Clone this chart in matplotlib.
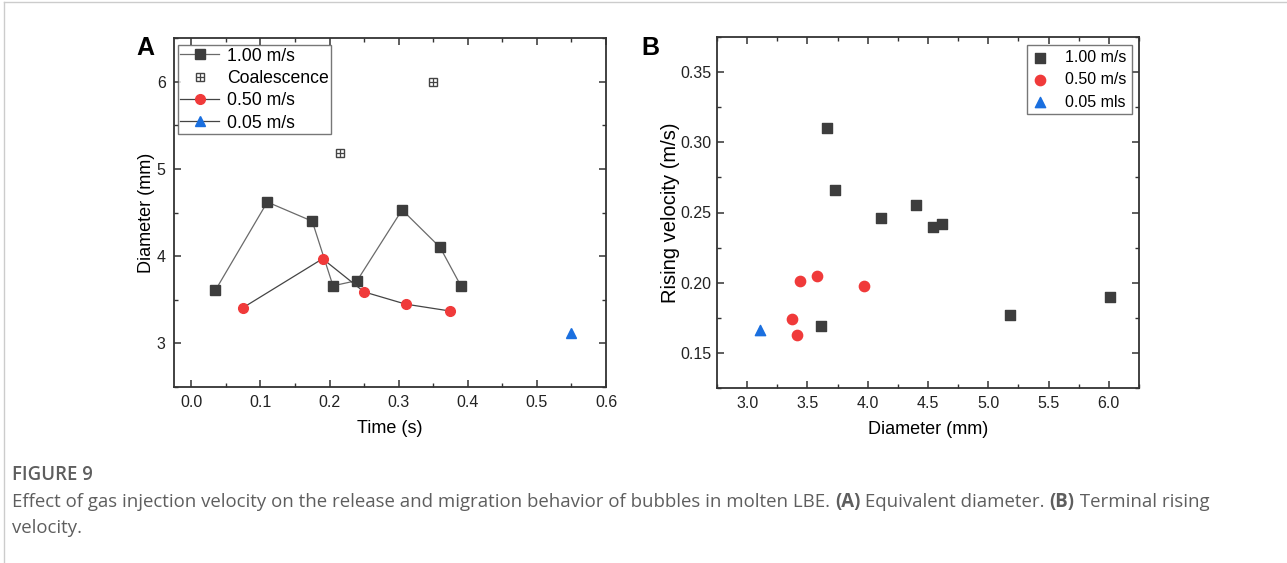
import matplotlib.pyplot as plt
from matplotlib.lines import Line2D
from matplotlib.legend_handler import HandlerTuple
from matplotlib.ticker import MultipleLocator

# ---- Panel A: diameter vs time ----
time_100 = [0.035, 0.11, 0.175, 0.205, 0.24, 0.305, 0.36, 0.39]
diam_100 = [3.61, 4.62, 4.40, 3.66, 3.72, 4.53, 4.10, 3.66]
time_coal = [0.215, 0.35]
diam_coal = [5.18, 6.00]
time_050 = [0.075, 0.19, 0.25, 0.31, 0.375]
diam_050 = [3.41, 3.97, 3.59, 3.45, 3.37]
time_005 = [0.55]
diam_005 = [3.12]

# ---- Panel B: rising velocity vs diameter ----
d_100 = [3.66, 3.73, 4.11, 4.40, 4.54, 4.62, 3.61, 5.18, 6.01]
v_100 = [0.310, 0.266, 0.246, 0.255, 0.240, 0.242, 0.169, 0.177, 0.190]
d_050 = [3.44, 3.58, 3.97, 3.37, 3.41]
v_050 = [0.201, 0.205, 0.198, 0.174, 0.163]
d_005 = [3.11]
v_005 = [0.166]

DARK = "#3d3d3d"
RED = "#f03a3a"
BLUE = "#1a6fdf"
SPINE = "#333333"
FONT = "Liberation Sans"

plt.rcParams["font.family"] = FONT

fig = plt.figure(figsize=(12.87, 5.63), dpi=100)
W, H = 1287, 563


def fig_axes(x0, y0, x1, y1):
    return fig.add_axes([x0 / W, 1 - y1 / H, (x1 - x0) / W, (y1 - y0) / H])


def style_axes(ax):
    for s in ax.spines.values():
        s.set_color(SPINE)
        s.set_linewidth(1.3)
    ax.tick_params(which="both", direction="in", top=True, right=True,
                   color=SPINE, labelsize=11.5, labelcolor="#222222", pad=6)
    ax.tick_params(which="major", length=5, width=1.1)
    ax.tick_params(which="minor", length=3, width=1.0)


ax_a = fig_axes(174, 38, 606, 387)
ax_b = fig_axes(717, 37, 1139, 388)

# ---- Panel A ----
ax_a.plot(time_100, diam_100, color="#6a6a6a", lw=0.9, marker="s", ms=6.5,
          mfc=DARK, mec=DARK, zorder=3)
ax_a.plot(time_050, diam_050, color="#444444", lw=0.9, marker="o", ms=7,
          mfc=RED, mec=RED, zorder=4)
ax_a.plot(time_005, diam_005, color="#444444", lw=0.9, marker="^", ms=7,
          mfc=BLUE, mec=BLUE, ls="none", zorder=4)
ax_a.plot(time_coal, diam_coal, ls="none", marker="s", ms=6, mfc="white",
          mec="#444444", mew=1.0, zorder=4)
ax_a.plot(time_coal, diam_coal, ls="none", marker="+", ms=6, mec="#444444",
          mew=0.9, zorder=5)

ax_a.set_xlim(-0.025, 0.6)
ax_a.set_ylim(2.5, 6.5)
ax_a.xaxis.set_minor_locator(MultipleLocator(0.05))
ax_a.yaxis.set_major_locator(MultipleLocator(1))
ax_a.yaxis.set_minor_locator(MultipleLocator(0.5))
ax_a.set_xticks([0.0, 0.1, 0.2, 0.3, 0.4, 0.5, 0.6])
ax_a.set_xticklabels(["0.0", "0.1", "0.2", "0.3", "0.4", "0.5", "0.6"])
style_axes(ax_a)
ax_a.set_xlabel("Time (s)", fontsize=13, labelpad=7)
ax_a.set_ylabel("Diameter (mm)", fontsize=13, labelpad=1)

h100 = Line2D([], [], color="#6a6a6a", lw=0.9, marker="s", ms=6.5, mfc=DARK, mec=DARK)
hcoal = (Line2D([], [], ls="none", marker="s", ms=6, mfc="white", mec="#444444"),
         Line2D([], [], ls="none", marker="+", ms=6, mec="#444444", mew=0.9))
h050 = Line2D([], [], color="#444444", lw=0.9, marker="o", ms=7, mfc=RED, mec=RED)
h005 = Line2D([], [], color="#444444", lw=0.9, marker="^", ms=7, mfc=BLUE, mec=BLUE)
leg_a = ax_a.legend([h100, hcoal, h050, h005],
                    ["1.00 m/s", "Coalescence", "0.50 m/s", "0.05 m/s"],
                    handler_map={tuple: HandlerTuple(ndivide=1, pad=0)},
                    loc="upper left", bbox_to_anchor=(0.0, 0.99),
                    fontsize=12.7, frameon=True, fancybox=False,
                    borderpad=0.15, labelspacing=0.3, handlelength=2.2,
                    handletextpad=0.45, borderaxespad=0.2)
leg_a.get_frame().set_edgecolor("#555555")
leg_a.get_frame().set_linewidth(1.0)

# ---- Panel B ----
ax_b.scatter(d_100, v_100, marker="s", s=50, c=DARK, zorder=3, label="1.00 m/s")
ax_b.scatter(d_050, v_050, marker="o", s=55, c=RED, zorder=3, label="0.50 m/s")
ax_b.scatter(d_005, v_005, marker="^", s=55, c=BLUE, zorder=3, label="0.05 mls")

ax_b.set_xlim(2.75, 6.25)
ax_b.set_ylim(0.125, 0.375)
ax_b.xaxis.set_minor_locator(MultipleLocator(0.25))
ax_b.yaxis.set_minor_locator(MultipleLocator(0.025))
ax_b.set_xticks([3.0, 3.5, 4.0, 4.5, 5.0, 5.5, 6.0])
ax_b.set_xticklabels(["3.0", "3.5", "4.0", "4.5", "5.0", "5.5", "6.0"])
ax_b.set_yticks([0.15, 0.20, 0.25, 0.30, 0.35])
ax_b.set_yticklabels(["0.15", "0.20", "0.25", "0.30", "0.35"])
style_axes(ax_b)
ax_b.tick_params(axis="y", pad=4)
ax_b.set_xlabel("Diameter (mm)", fontsize=13, labelpad=7)
ax_b.set_ylabel("Rising velocity (m/s)", fontsize=14.5, labelpad=0)

leg_b = ax_b.legend(loc="upper right", bbox_to_anchor=(0.99, 0.985),
                    fontsize=11.5, frameon=True, fancybox=False,
                    borderpad=0.3, labelspacing=0.45, handlelength=1.0,
                    handletextpad=1.1, borderaxespad=0.2, scatterpoints=1)
leg_b.get_frame().set_edgecolor("#555555")
leg_b.get_frame().set_linewidth(1.0)

# panel letters
fig.text(136 / W, 1 - 48 / H, "A", fontsize=18, fontweight="bold", va="center")
fig.text(641 / W, 1 - 48 / H, "B", fontsize=18, fontweight="bold", va="center")

# thin page border
fig.add_artist(Line2D([4 / W, 1], [1 - 2 / H, 1 - 2 / H], color="#cccccc", lw=1.0))
fig.add_artist(Line2D([4 / W, 4 / W], [0, 1 - 2 / H], color="#cccccc", lw=1.0))

# ---- caption ----
CAP_FONT = "Open Sans"
CAP_COLOR = "#5e5e5e"
CAP_SIZE = 13.4
fig.text(12 / W, 1 - 475 / H, "FIGURE 9", fontsize=CAP_SIZE, family=CAP_FONT,
         fontweight="semibold", color=CAP_COLOR, va="center")

renderer = fig.canvas.get_renderer()
pieces = [
    ("Effect of gas injection velocity on the release and migration behavior of bubbles in molten LBE. ", "normal"),
    ("(A)", "bold"),
    (" Equivalent diameter. ", "normal"),
    ("(B)", "bold"),
    (" Terminal rising", "normal"),
]
x = 12
for txt, wt in pieces:
    t = fig.text(x / W, 1 - 502 / H, txt, fontsize=CAP_SIZE, family=CAP_FONT,
                 fontweight=wt, color=CAP_COLOR, va="center")
    x += t.get_window_extent(renderer).width
fig.text(12 / W, 1 - 528 / H, "velocity.", fontsize=CAP_SIZE, family=CAP_FONT,
         color=CAP_COLOR, va="center")

fig.savefig("out.png", dpi=100)
